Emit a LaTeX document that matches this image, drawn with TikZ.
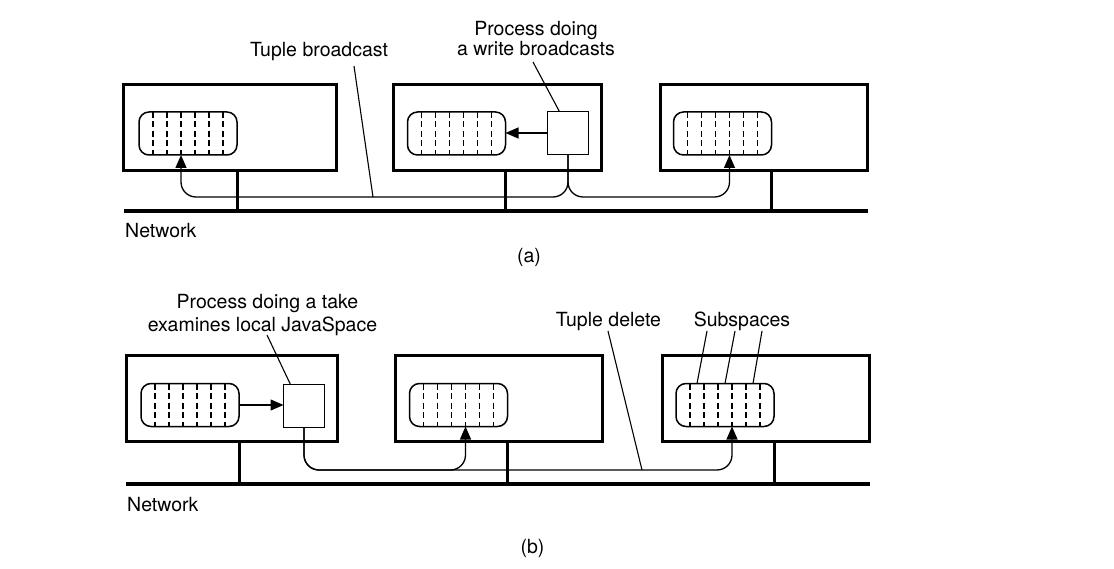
\documentclass[tikz,border=0pt]{standalone}
\usepackage{fontspec}
\setmainfont{TeX Gyre Heros}
\usetikzlibrary{arrows.meta,calc}
\begin{document}
\begin{tikzpicture}[x=1pt,y=-1pt,
  host/.style={draw, line width=2.8pt, inner sep=0pt, outer sep=0pt, minimum height=86pt},
  space/.style={draw, line width=1.5pt, rounded corners=10pt, inner sep=0pt, outer sep=0pt,
    minimum width=98pt, minimum height=43pt,
    path picture={\foreach \i in {1,...,6}{\draw[line width=1.1pt, dash pattern=on 6pt off 3.5pt]
      ($(path picture bounding box.north west)!\i/7!(path picture bounding box.north east)$) --
      ($(path picture bounding box.south west)!\i/7!(path picture bounding box.south east)$);}}},
  proc/.style={draw, line width=1.4pt, inner sep=0pt, outer sep=0pt, minimum width=41pt, minimum height=43pt},
  net/.style={line width=4pt},
  stem/.style={line width=3pt},
  conn/.style={line width=1.3pt, rounded corners=15pt},
  tip/.style={-{Triangle[length=13pt,width=11pt]}},
  lead/.style={line width=1.1pt},
  lbl/.style={font=\fontsize{19.5}{20}\selectfont, inner sep=0pt, anchor=base}
]
\useasboundingbox (0,0) rectangle (1114,569);

% ---------------- (a) ----------------
\node[host, minimum width=213pt] (ha1) at (230,127.5) {};
\node[host, minimum width=208pt] (ha2) at (497.5,127.5) {};
\node[host, minimum width=207pt] (ha3) at (764,127.5) {};
\node[space] (sa1) at (188,133.5) {};
\node[space] (sa2) at (456.5,133.5) {};
\node[space] (sa3) at (722.5,133.5) {};
\node[proc] (pa) at (568,133) {};

\coordinate (neta1) at (124,211.5);
\coordinate (neta2) at (868,211.5);
\coordinate (ya) at (0,197);
\coordinate (ta1) at ($(sa1.south west)!3/7!(sa1.south east)$);
\coordinate (ta3) at ($(sa3.south west)!4/7!(sa3.south east)$);

\draw[net] (neta1) -- (neta2);
\draw[stem] (ha1.south -| sa1.east) -- (sa1.east |- neta1);
\draw[stem] (ha2.south -| sa2.east) -- (sa2.east |- neta1);
\draw[stem] (ha3.south -| sa3.east) -- (sa3.east |- neta1);

\draw[line width=1.3pt, tip] (pa.west) -- (pa.west -| sa2.east);
\draw[conn, tip] (pa.south) -- (pa.south |- ya) -- (ta1 |- ya) -- (ta1);
\draw[conn, tip] (pa.south) -- (pa.south |- ya) -- (ta3 |- ya) -- (ta3);

\node[lbl] (la1) at (536,35.5) {Process doing};
\node[lbl] (la2) at (536,55.5) {a write broadcasts};
\node[lbl] (ltb) at (319,56.5) {Tuple broadcast};
\node[lbl, anchor=base west] (lneta) at (125,237.5) {Network};
\node[lbl] (lca) at (529,263) {(a)};

\coordinate (pal) at (533,62);
\coordinate (tbl) at (354,66);
\coordinate (tbe) at (373,197);
\draw[lead] (pal) -- ($(pa.north west)!0.29!(pa.north east)$);
\draw[lead] (tbl) -- (tbe);

% ---------------- (b) ----------------
\node[host, minimum width=211pt] (hb1) at (232,398.5) {};
\node[host, minimum width=207pt] (hb2) at (499,398.5) {};
\node[host, minimum width=207pt] (hb3) at (766,398.5) {};
\node[space] (sb1) at (190,405) {};
\node[space] (sb2) at (458.5,405) {};
\node[space] (sb3) at (725,405) {};
\node[proc] (pb) at (304,406) {};

\coordinate (netb1) at (126,484);
\coordinate (netb2) at (870,484);
\coordinate (yb) at (0,470);
\coordinate (tb2) at ($(sb2.south west)!4/7!(sb2.south east)$);
\coordinate (tb3) at ($(sb3.south west)!4/7!(sb3.south east)$);

\draw[net] (netb1) -- (netb2);
\draw[stem] (hb1.south -| sb1.east) -- (sb1.east |- netb1);
\draw[stem] (hb2.south -| sb2.east) -- (sb2.east |- netb1);
\draw[stem] (hb3.south -| sb3.east) -- (sb3.east |- netb1);

\draw[line width=1.3pt, tip] (sb1.east) -- (sb1.east -| pb.west);
\draw[conn, tip] (pb.south) -- (pb.south |- yb) -- (tb2 |- yb) -- (tb2);
\draw[conn, tip] (pb.south) -- (pb.south |- yb) -- (tb3 |- yb) -- (tb3);

\node[lbl] (lb1) at (267.5,308.5) {Process doing a take};
\node[lbl] (lb2) at (262.5,331.5) {examines local JavaSpace};
\node[lbl] (ltd) at (608.5,326.5) {Tuple delete};
\node[lbl] (lss) at (742,326.5) {Subspaces};
\node[lbl, anchor=base west] (lnetb) at (127,511.5) {Network};
\node[lbl] (lcb) at (532.5,553.5) {(b)};

\coordinate (pbl) at (267,335);
\coordinate (tdl) at (608,331);
\coordinate (tde) at (642,470);
\coordinate (ss1) at (707,331);
\coordinate (ss2) at (735,331);
\coordinate (ss3) at (762,331);
\draw[lead] (pbl) -- ($(pb.north west)!0.17!(pb.north east)$);
\draw[lead] (tdl) -- (tde);
\draw[lead] (ss1) -- ($(sb3.north west)!1.5/7!(sb3.north east)$);
\draw[lead] (ss2) -- ($(sb3.north west)!3.5/7!(sb3.north east)$);
\draw[lead] (ss3) -- ($(sb3.north west)!5.5/7!(sb3.north east)$);
\end{tikzpicture}
\end{document}
